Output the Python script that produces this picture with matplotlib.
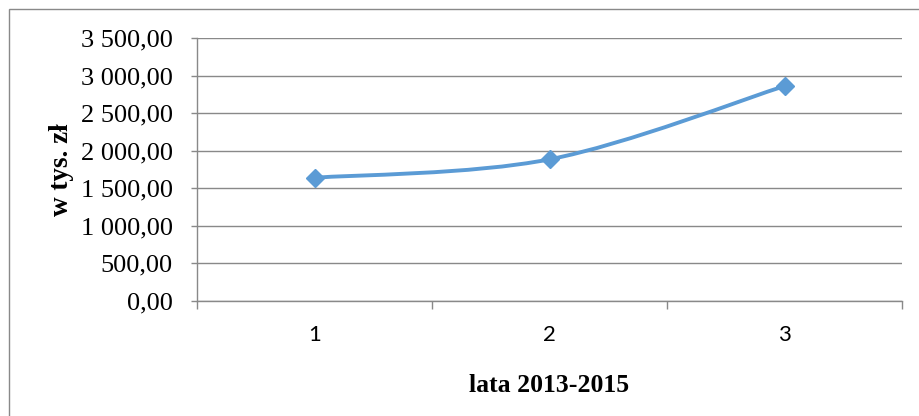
import matplotlib

matplotlib.use("Agg")

import matplotlib.pyplot as plt
import numpy as np
from matplotlib.patches import PathPatch, Rectangle
from matplotlib.path import Path
from matplotlib.ticker import FuncFormatter, FixedLocator

# data (w tys. zł)
years = [1, 2, 3]
values = [1640.0, 1885.0, 2860.0]
yticks = [0, 500, 1000, 1500, 2000, 2500, 3000, 3500]

LINE = "#5B9BD5"
GRID = "#898989"


def pl_format(v, _pos=None):
    return f"{v:,.2f}".replace(",", " ").replace(".", ",")


def smooth_path(x, y):
    # excel-like smoothed line: cubic bezier through the points
    pts = np.column_stack([x, y]).astype(float)
    ext = np.vstack([pts[0], pts, pts[-1]])
    verts = [pts[0]]
    codes = [Path.MOVETO]
    for i in range(1, len(ext) - 2):
        p0, p1, p2, p3 = ext[i - 1], ext[i], ext[i + 1], ext[i + 2]
        verts += [p1 + (p2 - p0) / 6.0, p2 - (p3 - p1) / 6.0, p2]
        codes += [Path.CURVE4] * 3
    return Path(verts, codes)


fig = plt.figure(figsize=(9.19, 4.16), dpi=100)
fig.patches.append(
    Rectangle(
        (9 / 919, -0.1), 1.2, 1 - 9 / 416 + 0.1,
        transform=fig.transFigure, fill=False, edgecolor=GRID, linewidth=1.0,
    )
)

ax = fig.add_axes([197 / 919, 115 / 416, 705 / 919, 263 / 416])

ax.add_patch(
    PathPatch(
        smooth_path(years, values), facecolor="none", edgecolor=LINE,
        linewidth=2.8, capstyle="round", zorder=3,
    )
)
ax.plot(years, values, linestyle="none", marker="D", markersize=9,
        color=LINE, zorder=4)

ax.set_xlim(0.5, 3.5)
ax.set_ylim(0, 3500)
ax.set_yticks(yticks)
ax.yaxis.set_major_formatter(FuncFormatter(pl_format))
ax.grid(axis="y", color=GRID, linewidth=1.0)
ax.set_axisbelow(True)

# category boundaries carry the tick marks, labels sit in the middle
ax.xaxis.set_major_locator(FixedLocator([0.5, 1.5, 2.5, 3.5]))
ax.xaxis.set_major_formatter(FuncFormatter(lambda v, p: ""))
ax.xaxis.set_minor_locator(FixedLocator(years))
ax.xaxis.set_minor_formatter(FuncFormatter(lambda v, p: f"{int(round(v))}"))
ax.tick_params(axis="x", which="major", length=5.8, width=1.0, color=GRID,
               direction="out")
ax.tick_params(axis="x", which="minor", length=0, pad=17, labelsize=16)
ax.tick_params(axis="y", length=4.3, width=1.0, color=GRID, pad=13,
               labelsize=19)
for lab in ax.get_xticklabels(minor=True):
    lab.set_fontfamily("Lato")
for lab in ax.get_yticklabels():
    lab.set_fontfamily("Liberation Serif")

for side in ("top", "right"):
    ax.spines[side].set_visible(False)
for side in ("left", "bottom"):
    ax.spines[side].set_color(GRID)
    ax.spines[side].set_linewidth(1.0)

ax.set_xlabel("lata 2013-2015", fontfamily="Liberation Serif",
              fontweight="bold", fontsize=18.5, labelpad=21)
ax.set_ylabel("w tys. zł", fontfamily="Liberation Serif",
              fontweight="bold", fontsize=19.5, labelpad=5)

fig.savefig("out.png", dpi=100)
